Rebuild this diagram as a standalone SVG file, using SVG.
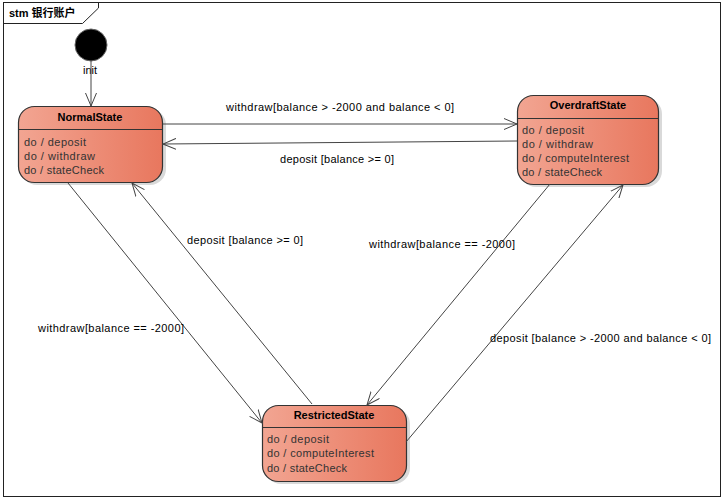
<svg xmlns="http://www.w3.org/2000/svg" width="726" height="501" viewBox="0 0 726 501">
<defs>
<linearGradient id="g" x1="0" y1="0" x2="1" y2="0">
<stop offset="0" stop-color="#F2A592"/>
<stop offset="1" stop-color="#E8775E"/>
</linearGradient>
<marker id="a" markerWidth="14" markerHeight="12" viewBox="0 0 14 12" refX="13" refY="6" orient="auto" markerUnits="userSpaceOnUse">
<path d="M0,0.5 L13,6 L0,11.5" fill="none" stroke="#444" stroke-width="1"/>
</marker>
</defs>
<style>
text{font-family:"Liberation Sans",Arial,sans-serif;font-size:11px;fill:#000}
.st{fill:url(#g);stroke:#333;stroke-width:1.2}
.sh{fill:#000;opacity:0.15}
.dv{stroke:#333;stroke-width:1}
.nm{font-weight:bold;text-anchor:middle}
.act{fill:#333}
.c{fill:none;stroke:#444;stroke-width:1;marker-end:url(#a)}
</style>
<rect width="726" height="501" fill="#fff"/>
<g id="frame">
<rect x="3.5" y="2.5" width="717" height="494" fill="none" stroke="#222" stroke-width="1"/>
<path d="M3.5,23.5 L82.5,23.5 L98.5,8 L98.5,2.5" fill="none" stroke="#222" stroke-width="1"/>
<text x="9" y="17" style="font-family:'Liberation Sans','Noto Sans CJK SC',sans-serif;font-weight:bold">stm 银行账户</text>
</g>
<g id="init">
<circle cx="91" cy="45" r="16" fill="#000" stroke="#666" stroke-width="1"/>
<text x="90" y="74" text-anchor="middle">init</text>
</g>
<g id="NormalState">
<rect class="sh" x="21" y="109" width="145" height="76" rx="16"/>
<rect class="st" x="18.5" y="106.5" width="144" height="76" rx="16"/>
<line class="dv" x1="18.5" y1="129.5" x2="162.5" y2="129.5"/>
<text class="nm" x="90" y="121">NormalState</text>
<text class="act" x="24" y="146" textLength="62" lengthAdjust="spacing">do / deposit</text>
<text class="act" x="24" y="160" textLength="71" lengthAdjust="spacing">do / withdraw</text>
<text class="act" x="24" y="174" textLength="80" lengthAdjust="spacing">do / stateCheck</text>
</g>
<g id="OverdraftState">
<rect class="sh" x="520" y="98" width="142" height="89" rx="16"/>
<rect class="st" x="517.5" y="95.5" width="141" height="89" rx="16"/>
<line class="dv" x1="517.5" y1="118.5" x2="658.5" y2="118.5"/>
<text class="nm" x="588" y="109">OverdraftState</text>
<text class="act" x="522" y="134" textLength="62" lengthAdjust="spacing">do / deposit</text>
<text class="act" x="522" y="148" textLength="71" lengthAdjust="spacing">do / withdraw</text>
<text class="act" x="522" y="162" textLength="107" lengthAdjust="spacing">do / computeInterest</text>
<text class="act" x="522" y="176" textLength="80" lengthAdjust="spacing">do / stateCheck</text>
</g>
<g id="RestrictedState">
<rect class="sh" x="265" y="408" width="145" height="76" rx="16"/>
<rect class="st" x="262.5" y="405.5" width="144" height="76" rx="16"/>
<line class="dv" x1="262.5" y1="427.5" x2="406.5" y2="427.5"/>
<text class="nm" x="334" y="419">RestrictedState</text>
<text class="act" x="267" y="443" textLength="62" lengthAdjust="spacing">do / deposit</text>
<text class="act" x="267" y="457" textLength="107" lengthAdjust="spacing">do / computeInterest</text>
<text class="act" x="267" y="472" textLength="80" lengthAdjust="spacing">do / stateCheck</text>
</g>
<g id="connectors">
<line class="c" x1="91" y1="61" x2="91" y2="106"/>
<line class="c" x1="163" y1="124" x2="517" y2="124"/>
<text x="226" y="111" textLength="228" lengthAdjust="spacing">withdraw[balance &gt; -2000 and balance &lt; 0]</text>
<line class="c" x1="517" y1="141" x2="163" y2="144"/>
<text x="280" y="163" textLength="114" lengthAdjust="spacing">deposit [balance &gt;= 0]</text>
<line class="c" x1="68" y1="183" x2="262" y2="423"/>
<text x="38" y="332" textLength="146" lengthAdjust="spacing">withdraw[balance == -2000]</text>
<line class="c" x1="312" y1="404" x2="132" y2="183"/>
<text x="187" y="244" textLength="116" lengthAdjust="spacing">deposit [balance &gt;= 0]</text>
<line class="c" x1="550" y1="184" x2="367" y2="405"/>
<text x="369" y="248" textLength="146" lengthAdjust="spacing">withdraw[balance == -2000]</text>
<line class="c" x1="406" y1="442" x2="623" y2="185"/>
<text x="490" y="342" textLength="221" lengthAdjust="spacing">deposit [balance &gt; -2000 and balance &lt; 0]</text>
</g>
</svg>
